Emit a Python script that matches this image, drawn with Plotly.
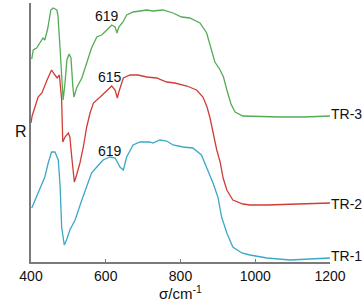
import plotly.graph_objects as go

# TR-3 (green)
tr3_w = [402, 406, 415, 424, 432, 437, 445, 453, 459, 469, 472, 478, 482, 486, 491, 496, 502, 507, 512, 515,
         522, 536, 549, 562, 576, 589, 603, 616, 625, 630, 635, 646, 656, 673, 692, 710, 726, 753, 780, 803,
         825, 852, 870, 883, 892, 906, 915, 924, 935, 946, 967, 1066, 1130, 1200]
tr3_r = [203, 212, 214, 220, 224, 222, 234, 252, 254, 252, 247, 212, 179, 162, 179, 202, 208, 204, 175, 165,
         174, 184, 199, 214, 225, 227, 232, 237, 235, 229, 235, 240, 247, 250, 251, 252, 251, 252, 249, 245,
         244, 239, 229, 212, 200, 192, 185, 172, 158, 150, 146, 145, 145, 146]

# TR-2 (red)
tr2_w = [400, 403, 419, 429, 443, 455, 464, 470, 476, 482, 485, 491, 500, 504, 509, 516, 522, 531, 540, 549,
         558, 567, 585, 603, 616, 625, 631, 635, 647, 665, 686, 710, 736, 763, 785, 817, 843, 860, 871, 879,
         887, 897, 906, 914, 924, 940, 967, 986, 1031, 1100, 1200]
tr2_r = [139, 146, 165, 169, 182, 192, 187, 184, 187, 162, 120, 125, 129, 125, 105, 80, 87, 99, 115, 135,
         149, 159, 165, 172, 176, 172, 164, 170, 184, 187, 187, 185, 184, 180, 179, 176, 172, 165, 155, 144,
         129, 112, 100, 84, 72, 62, 58, 57, 57, 58, 59]

# TR-1 (blue)
tr1_w = [402, 411, 424, 437, 446, 455, 464, 473, 478, 482, 489, 495, 504, 518, 536, 549, 562, 576, 593, 611,
         625, 638, 647, 656, 673, 692, 718, 726, 745, 763, 780, 807, 833, 856, 870, 887, 900, 910, 924, 940,
         964, 986, 1031, 1093, 1200]
tr1_r = [54, 62, 75, 85, 99, 110, 110, 102, 75, 35, 17, 22, 32, 42, 62, 75, 89, 95, 102, 105,
         104, 95, 92, 105, 117, 120, 120, 119, 122, 121, 117, 115, 114, 107, 95, 79, 65, 45, 29, 15,
         9, 7, 4, 2, 4]

series_names = ["TR-1", "TR-2", "TR-3"]
peak_labels = ["619", "615", "619"]
peak_pos_w = [611, 611, 603]
peak_pos_r = [111, 185, 246]
end_r = [6, 58, 148]

x_ticks = [400, 600, 800, 1000, 1200]

colors = ["#3ba8c6", "#cf3d36", "#55ab55"]
data_w = [tr1_w, tr2_w, tr3_w]
data_r = [tr1_r, tr2_r, tr3_r]

fig = go.Figure()
for name, w, r, c in zip(series_names, data_w, data_r, colors):
    fig.add_trace(go.Scatter(x=w, y=r, mode="lines", name=name,
                             line=dict(color=c, width=1.3), showlegend=False))

font_family = "Liberation Sans, Arial, sans-serif"
ann = []
for lbl, px, py in zip(peak_labels, peak_pos_w, peak_pos_r):
    ann.append(dict(x=px, y=py, xref="x", yref="y", text=lbl, showarrow=False,
                    font=dict(family=font_family, size=14, color="#111")))
for name, er in zip(series_names, end_r):
    ann.append(dict(x=1200, y=er, xref="x", yref="y", text=name, showarrow=False,
                    xanchor="left", xshift=-1,
                    font=dict(family=font_family, size=14, color="#111")))
ann.append(dict(x=-0.06, y=0.505, xref="paper", yref="paper", text="R", showarrow=False,
                font=dict(family=font_family, size=16, color="#111")))

fig.update_layout(
    width=363, height=302,
    margin=dict(l=31, r=33, t=3, b=40),
    paper_bgcolor="white", plot_bgcolor="white",
    annotations=ann,
    font=dict(family=font_family, size=14, color="#111"),
)
fig.update_xaxes(range=[400, 1200], tickvals=x_ticks, ticktext=[str(t) for t in x_ticks],
                 showgrid=False, zeroline=False, showline=True, linecolor="#7a7a7a", linewidth=1.5,
                 ticks="inside", ticklen=3, tickcolor="#7a7a7a",
                 tickfont=dict(family=font_family, size=14, color="#111"),
                 title=dict(text="σ/cm<sup>-1</sup>", standoff=4,
                            font=dict(family=font_family, size=15, color="#111")))
fig.update_yaxes(range=[0, 259], showgrid=False, zeroline=False, showline=True,
                 linecolor="#7a7a7a", linewidth=1.5, showticklabels=False, ticks="")

fig.write_html("out.html", config={"displayModeBar": False},
               post_script="document.body.style.margin='0';document.body.style.overflow='hidden';")
